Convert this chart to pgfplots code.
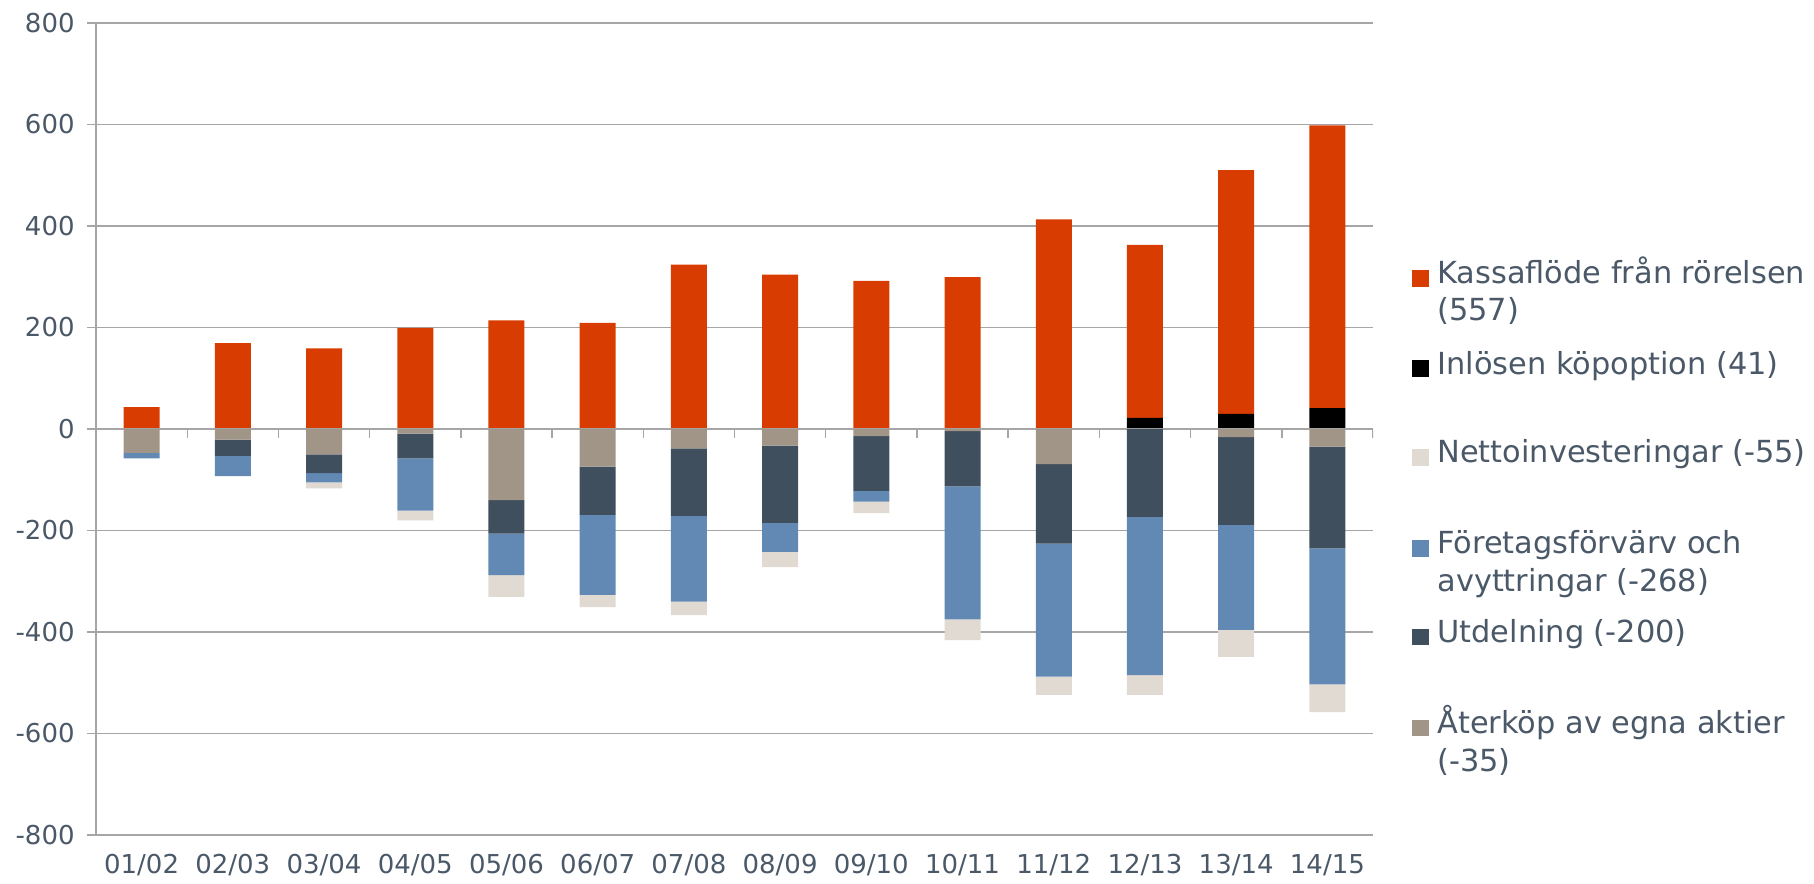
\documentclass[border=0pt]{standalone}
\usepackage{fontspec}
\setmainfont{DejaVu Sans}
\usepackage{pgfplots}
\pgfplotsset{compat=1.18}

\definecolor{kassa}{HTML}{D93C00}
\definecolor{inlos}{HTML}{000000}
\definecolor{netto}{HTML}{E0DAD3}
\definecolor{forv}{HTML}{6289B4}
\definecolor{utd}{HTML}{404F5D}
\definecolor{aterk}{HTML}{A19588}
\definecolor{txt}{HTML}{4A5868}
\definecolor{grd}{HTML}{A6A6A6}

\pgfplotsset{
  base/.style={
    width=638.5pt, height=406pt, scale only axis,
    at={(0,0)}, anchor=south west,
    xmin=-0.5, xmax=13.5, ymin=-800, ymax=800,
    ybar stacked, bar width=18pt,
    xtick={0,...,13},
    xticklabels={01/02,02/03,03/04,04/05,05/06,06/07,07/08,08/09,09/10,10/11,11/12,12/13,13/14,14/15},
    ytick={-800,-600,...,800},
    yticklabels={-800,-600,-400,-200,0,200,400,600,800},
  },
}

\begin{document}
\begin{tikzpicture}
\useasboundingbox (-48pt,-24pt) rectangle (859pt,417.5pt);

% positive side
\begin{axis}[base,
    axis x line*=bottom, axis y line*=left,
    axis line style={grd, line width=0.7pt},
    ymajorgrids, grid style={grd, line width=0.7pt},
    xtick style={draw=none},
    ytick style={grd, line width=0.7pt},
    tick align=outside, major tick length=4.5pt,
    ticklabel style={text=txt, font=\fontsize{13}{15}\selectfont, inner sep=0pt},
    yticklabel style={anchor=east, xshift=-6pt},
    xticklabel style={anchor=north, yshift=-5pt},
  ]
\addplot[fill=inlos, draw=none] coordinates {
  (0,0) (1,0) (2,0) (3,0) (4,0) (5,0) (6,0) (7,0) (8,0) (9,0) (10,0) (11,22) (12,30) (13,41)};
\addplot[fill=kassa, draw=none] coordinates {
  (0,43) (1,169) (2,159) (3,199) (4,214) (5,209) (6,324) (7,304) (8,292) (9,299) (10,413) (11,341) (12,480) (13,557)};
\end{axis}

% negative side
\begin{axis}[base, hide axis]
\addplot[fill=aterk, draw=none] coordinates {
  (0,-47) (1,-21) (2,-50) (3,-9) (4,-140) (5,-74) (6,-38) (7,-33) (8,-14) (9,-4) (10,-69) (11,0) (12,-16) (13,-35)};
\addplot[fill=utd, draw=none] coordinates {
  (0,0) (1,-32) (2,-37) (3,-49) (4,-66) (5,-95) (6,-133) (7,-152) (8,-108) (9,-109) (10,-157) (11,-173) (12,-173) (13,-200)};
\addplot[fill=forv, draw=none] coordinates {
  (0,-11) (1,-40) (2,-18) (3,-103) (4,-82) (5,-158) (6,-169) (7,-57) (8,-21) (9,-262) (10,-262) (11,-312) (12,-207) (13,-268)};
\addplot[fill=netto, draw=none] coordinates {
  (0,0) (1,0) (2,-12) (3,-19) (4,-43) (5,-24) (6,-27) (7,-30) (8,-23) (9,-41) (10,-36) (11,-39) (12,-53) (13,-55)};
% category axis at zero
\draw[grd, line width=0.7pt] (axis cs:-0.5,0) -- (axis cs:13.5,0);
\pgfplotsinvokeforeach{0,...,13}{
  \draw[grd, line width=0.7pt] (axis cs:#1+0.5,0) -- ++(0pt,-4.5pt);
}
\end{axis}

% legend
\begin{scope}[every node/.style={anchor=mid west, inner sep=0pt, text=txt, font=\fontsize{15.2}{18}\selectfont}]
\fill[kassa] (658pt,274.05pt) rectangle ++(8.4pt,8.4pt);
\node at (670.5pt,278.25pt) {Kassaflöde från rörelsen};
\node at (670.5pt,260pt) {(557)};
\fill[inlos] (658pt,228.95pt) rectangle ++(8.4pt,8.4pt);
\node at (670.5pt,233.15pt) {Inlösen köpoption (41)};
\fill[netto] (658pt,184.55pt) rectangle ++(8.4pt,8.4pt);
\node at (670.5pt,188.75pt) {Nettoinvesteringar (-55)};
\fill[forv] (658pt,139.05pt) rectangle ++(8.4pt,8.4pt);
\node at (670.5pt,143.25pt) {Företagsförvärv och};
\node at (670.5pt,124.5pt) {avyttringar (-268)};
\fill[utd] (658pt,94.8pt) rectangle ++(8.4pt,8.4pt);
\node at (670.5pt,99pt) {Utdelning (-200)};
\fill[aterk] (658pt,49.3pt) rectangle ++(8.4pt,8.4pt);
\node at (670.5pt,53.5pt) {Återköp av egna aktier};
\node at (670.5pt,34.5pt) {(-35)};
\end{scope}
\end{tikzpicture}
\end{document}
